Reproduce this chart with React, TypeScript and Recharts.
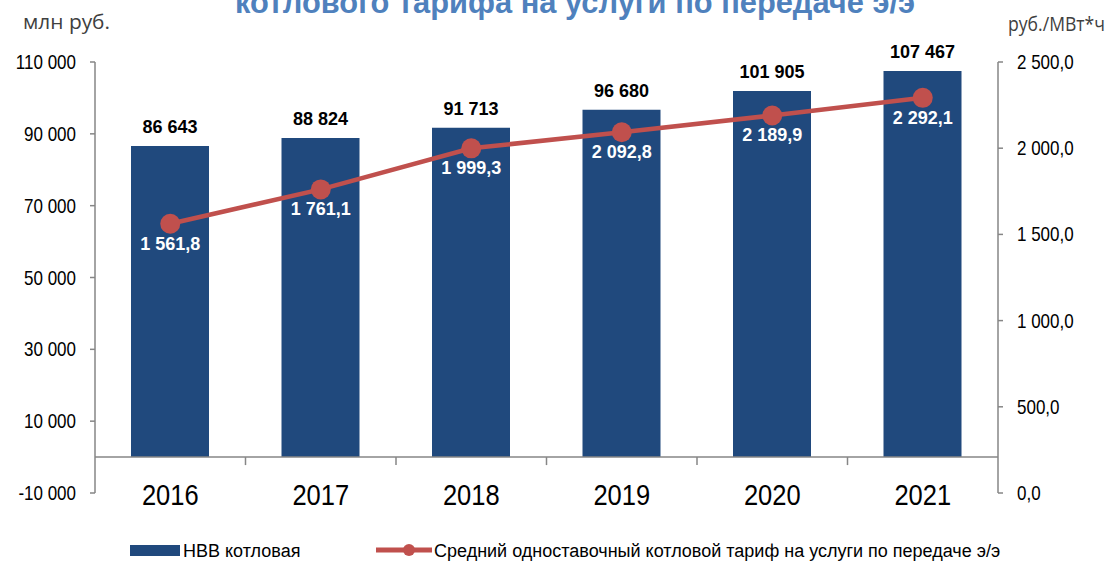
import React from 'react';
import {
  ComposedChart,
  Bar,
  Line,
  XAxis,
  YAxis,
  LabelList,
  ReferenceLine,
} from 'recharts';

const years = ['2016', '2017', '2018', '2019', '2020', '2021'];
const nvvValues = [86643, 88824, 91713, 96680, 101905, 107467];
const tariffValues = [1561.8, 1761.1, 1999.3, 2092.8, 2189.9, 2292.1];
const leftTicks = [-10000, 10000, 30000, 50000, 70000, 90000, 110000];
const rightTicks = [0, 500, 1000, 1500, 2000, 2500];
const seriesNames = ['НВВ котловая', 'Средний одноставочный котловой тариф на услуги по передаче э/э'];
const titleText = 'котлового тарифа на услуги по передаче э/э';
const leftUnit = 'млн руб.';
const rightUnit = 'руб./МВт*ч';

const W = 1115;
const H = 562;
const LEFT_W = 95;
const RIGHT_W = 117;
const X_H = 30;
const MARGIN = { top: 62, right: 0, bottom: 39, left: 0 };
const PLOT_W = W - MARGIN.left - MARGIN.right - LEFT_W - RIGHT_W;
const PLOT_TOP = MARGIN.top;
const PLOT_H = H - MARGIN.top - MARGIN.bottom - X_H;
const LEFT_MIN = -10000;
const LEFT_MAX = 110000;
const ZERO_Y = PLOT_TOP + ((LEFT_MAX - 0) / (LEFT_MAX - LEFT_MIN)) * PLOT_H;

const BAR_COLOR = '#20497D';
const LINE_COLOR = '#C0504D';
const AXIS_COLOR = '#868686';
const FONT = '"Liberation Sans", Arial, sans-serif';
// reference uses a narrow face; squeeze the regular one horizontally
const SQUEEZE = 0.85;

const data = years.map((year, i) => ({ year, nvv: nvvValues[i], tariff: tariffValues[i] }));

const groupThousands = (s: string) => s.replace(/\B(?=(\d{3})+(?!\d))/g, ' ');
const fmtInt = (v: number) => groupThousands(String(Math.round(v)));
const fmtDec = (v: number) => {
  const [a, b] = Number(v).toFixed(1).split('.');
  return groupThousands(a) + ',' + b;
};

function NarrowText({ x, y, anchor, size, children, ...rest }: any) {
  return (
    <text
      transform={`translate(${x},${y}) scale(${SQUEEZE},1)`}
      textAnchor={anchor}
      fontFamily={FONT}
      fontSize={size}
      {...rest}
    >
      {children}
    </text>
  );
}

function YearTick(props: any) {
  const { x, payload, index } = props;
  const band = PLOT_W / years.length;
  return (
    <g>
      <NarrowText x={x} y={PLOT_TOP + PLOT_H + 12} anchor="middle" size={30} fill="#000">
        {payload.value}
      </NarrowText>
      {index < years.length - 1 && (
        <line x1={x + band / 2} x2={x + band / 2} y1={ZERO_Y} y2={ZERO_Y + 8} stroke={AXIS_COLOR} strokeWidth={1.5} />
      )}
    </g>
  );
}

function LeftTick(props: any) {
  const { x, y, payload } = props;
  return (
    <NarrowText x={x} y={y} anchor="end" size={20} fill="#000" dy="0.35em">
      {fmtInt(payload.value)}
    </NarrowText>
  );
}

function RightTick(props: any) {
  const { x, y, payload } = props;
  return (
    <NarrowText x={x} y={y} anchor="start" size={20} fill="#000" dy="0.35em">
      {fmtDec(payload.value)}
    </NarrowText>
  );
}

export default function App() {
  return (
    <div style={{ position: 'absolute', left: 0, top: 0, width: W, height: H, background: '#fff' }}>
      <ComposedChart width={W} height={H} data={data} margin={MARGIN}>
        <XAxis
          dataKey="year"
          axisLine={false}
          tickLine={false}
          height={X_H}
          interval={0}
          tick={<YearTick />}
        />
        <YAxis
          yAxisId="left"
          orientation="left"
          width={LEFT_W}
          domain={[LEFT_MIN, LEFT_MAX]}
          ticks={leftTicks}
          interval={0}
          allowDataOverflow
          axisLine={{ stroke: AXIS_COLOR, strokeWidth: 1.5 }}
          tickLine={{ stroke: AXIS_COLOR, strokeWidth: 1.5 }}
          tickSize={5}
          tickMargin={14}
          tick={<LeftTick />}
        />
        <YAxis
          yAxisId="right"
          orientation="right"
          width={RIGHT_W}
          domain={[0, 2500]}
          ticks={rightTicks}
          interval={0}
          axisLine={{ stroke: AXIS_COLOR, strokeWidth: 1.5 }}
          tickLine={{ stroke: AXIS_COLOR, strokeWidth: 1.5 }}
          tickSize={5}
          tickMargin={14}
          tick={<RightTick />}
        />
        <Bar yAxisId="left" dataKey="nvv" name={seriesNames[0]} fill={BAR_COLOR} barSize={78} isAnimationActive={false}>
          <LabelList
            dataKey="nvv"
            position="top"
            offset={13}
            formatter={(v: any) => fmtInt(Number(v))}
            style={{ fill: '#000', fontWeight: 'bold', fontSize: 18, fontFamily: FONT }}
          />
        </Bar>
        <ReferenceLine yAxisId="left" y={0} stroke={AXIS_COLOR} strokeWidth={1.5} />
        <Line
          yAxisId="right"
          dataKey="tariff"
          name={seriesNames[1]}
          stroke={LINE_COLOR}
          strokeWidth={4.5}
          dot={{ r: 10, fill: LINE_COLOR, stroke: LINE_COLOR, strokeWidth: 0 }}
          activeDot={false}
          isAnimationActive={false}
        >
          <LabelList
            dataKey="tariff"
            position="bottom"
            offset={13}
            formatter={(v: any) => fmtDec(Number(v))}
            style={{ fill: '#fff', fontWeight: 'bold', fontSize: 18, fontFamily: FONT }}
          />
        </Line>
      </ComposedChart>
      <svg
        width={W}
        height={H}
        style={{ position: 'absolute', left: 0, top: 0, pointerEvents: 'none' }}
      >
        <text
          x={235}
          y={13}
          textLength={680}
          lengthAdjust="spacingAndGlyphs"
          fontFamily={FONT}
          fontWeight="bold"
          fontSize={31}
          fill="#4F81BD"
        >
          {titleText}
        </text>
        <text
          x={23}
          y={29}
          textLength={87}
          lengthAdjust="spacingAndGlyphs"
          fontFamily='"Open Sans", sans-serif'
          fontSize={20}
          fill="#404040"
        >
          {leftUnit}
        </text>
        <text
          x={1008}
          y={31}
          textLength={97}
          lengthAdjust="spacingAndGlyphs"
          fontFamily='"Open Sans", sans-serif'
          fontSize={20}
          fill="#404040"
        >
          {rightUnit}
        </text>
        <rect x={130} y={545} width={50} height={11} fill={BAR_COLOR} />
        <text x={183} y={557} fontFamily={FONT} fontSize={18} fill="#000">
          {seriesNames[0]}
        </text>
        <line x1={376} x2={432} y1={550} y2={550} stroke={LINE_COLOR} strokeWidth={5} />
        <circle cx={409} cy={550} r={6} fill={LINE_COLOR} />
        <text x={434} y={557} fontFamily={FONT} fontSize={18} fill="#000">
          {seriesNames[1]}
        </text>
      </svg>
    </div>
  );
}
